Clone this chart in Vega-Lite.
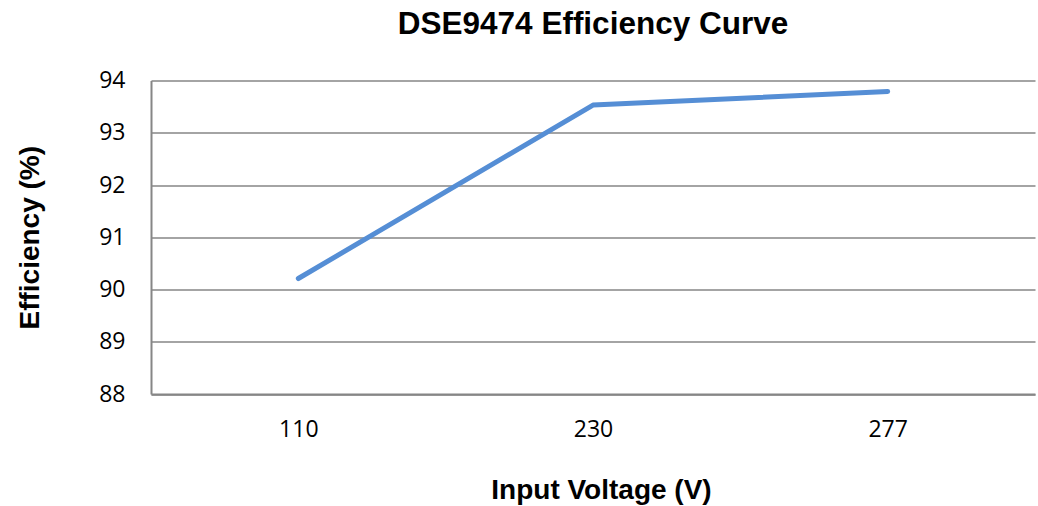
{
  "$schema": "https://vega.github.io/schema/vega-lite/v6.json",
  "autosize": {"type": "none"},
  "width": 884,
  "height": 313.5,
  "padding": {"left": 151, "top": 80.5, "right": 3, "bottom": 112},
  "background": "white",
  "title": {
    "text": "DSE9474 Efficiency Curve",
    "font": "Liberation Sans",
    "fontSize": 31.5,
    "fontWeight": "bold",
    "color": "#000000",
    "anchor": "middle",
    "baseline": "middle",
    "frame": "group",
    "offset": 13
  },
  "data": {
    "values": [
      {"voltage": "110", "efficiency": 90.21},
      {"voltage": "230", "efficiency": 93.53},
      {"voltage": "277", "efficiency": 93.79}
    ]
  },
  "mark": {"type": "line", "color": "#558ED5", "strokeWidth": 5, "strokeCap": "round", "strokeJoin": "round"},
  "encoding": {
    "x": {
      "field": "voltage",
      "type": "ordinal",
      "sort": null,
      "scale": {"type": "point", "padding": 0.5},
      "axis": {
        "title": "Input Voltage (V)",
        "titleFont": "Liberation Sans",
        "titleFontSize": 28,
        "titleFontWeight": "bold",
        "titleColor": "#000000",
        "titlePadding": 35,
        "titleX": 450,
        "labelFont": "Open Sans",
        "labelFontSize": 23,
        "labelColor": "#000000",
        "labelAngle": 0,
        "labelPadding": 24,
        "ticks": false,
        "grid": false,
        "domainColor": "#868686",
        "domainWidth": 2
      }
    },
    "y": {
      "field": "efficiency",
      "type": "quantitative",
      "scale": {"domain": [88, 94], "nice": false, "zero": false},
      "axis": {
        "title": "Efficiency (%)",
        "titleFont": "Liberation Sans",
        "titleFontSize": 28,
        "titleFontWeight": "bold",
        "titleColor": "#000000",
        "titleX": -121,
        "titleY": 156.75,
        "titleAlign": "center",
        "titleBaseline": "middle",
        "values": [88, 89, 90, 91, 92, 93, 94],
        "labelFont": "Open Sans",
        "labelFontSize": 23,
        "labelColor": "#000000",
        "labelPadding": 26,
        "ticks": false,
        "grid": true,
        "gridColor": "#868686",
        "gridWidth": 1.5,
        "domainColor": "#868686",
        "domainWidth": 2
      }
    }
  },
  "config": {"view": {"stroke": null}}
}
